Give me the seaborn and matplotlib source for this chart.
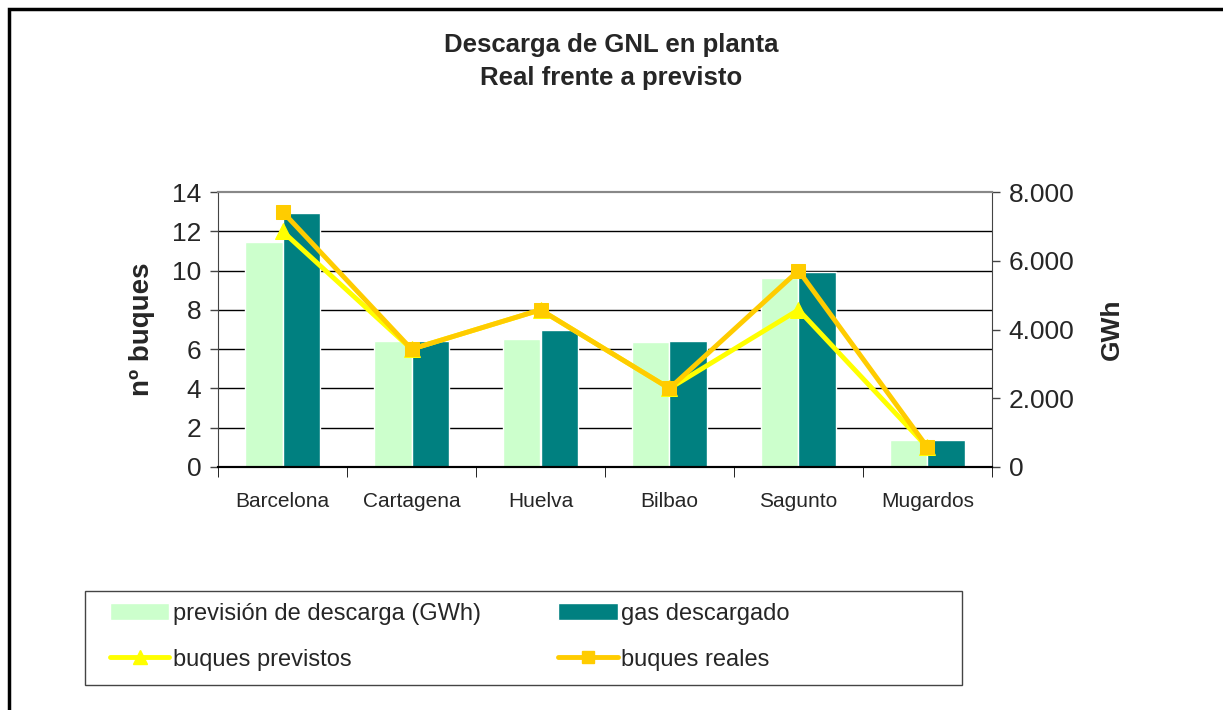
import numpy as np
import pandas as pd
import seaborn as sns
import matplotlib.pyplot as plt
from matplotlib.patches import Rectangle
from matplotlib.lines import Line2D
from matplotlib.ticker import FuncFormatter

plantas = ["Barcelona", "Cartagena", "Huelva", "Bilbao", "Sagunto", "Mugardos"]
prevision_gwh = [6550, 3660, 3710, 3630, 5490, 800]
gas_descargado = [7390, 3660, 4000, 3660, 5660, 800]
buques_previstos = [12, 6, 8, 4, 8, 1]
buques_reales = [13, 6, 8, 4, 10, 1]

c_prev = "#CCFFCC"
c_gas = "#008080"
c_bprev = "#FFFF00"
c_breal = "#FFCC00"

sns.set_style("white")
plt.rcParams["font.family"] = ["Liberation Sans", "DejaVu Sans"]

df = pd.DataFrame({
    "planta": plantas * 2,
    "gwh": prevision_gwh + gas_descargado,
    "serie": ["previsión de descarga (GWh)"] * 6 + ["gas descargado"] * 6,
})

W, H = 1223, 710
fig = plt.figure(figsize=(W / 100, H / 100), dpi=100)
ax = fig.add_axes([218 / W, 1 - 467 / H, 774 / W, 275 / H])
ax2 = ax.twinx()

# bars on the GWh axis (right)
sns.barplot(data=df, x="planta", y="gwh", hue="serie", ax=ax2,
            palette=[c_prev, c_gas], width=0.58, saturation=1, legend=False)
ax2.set_ylim(0, 8000)
ax2.set_yticks([0, 2000, 4000, 6000, 8000])
ax2.yaxis.set_major_formatter(FuncFormatter(lambda v, p: f"{int(v):,}".replace(",", ".")))
# grid lines matching the buques scale (every 2 ships)
ax2.set_yticks(np.arange(0, 8001, 8000 / 7), minor=True)
ax2.grid(which="minor", axis="y", color="black", linewidth=1)
ax2.set_axisbelow(True)
ax2.tick_params(axis="y", which="minor", length=0)
ax2.tick_params(axis="y", which="major", direction="out", length=6, width=1,
                color="#444444", labelsize=19, pad=6, right=True)
ax2.set_ylabel("GWh", fontsize=19, fontweight="bold", labelpad=18)
ax2.set_xlabel("")

# lines on the ships axis (left), drawn above bars
ax.set_zorder(ax2.get_zorder() + 1)
ax.patch.set_visible(False)
sns.lineplot(x=plantas, y=buques_previstos, ax=ax, color=c_bprev, linewidth=3.5,
             marker="^", markersize=11, markeredgecolor=c_bprev, sort=False)
sns.lineplot(x=plantas, y=buques_reales, ax=ax, color=c_breal, linewidth=3.5,
             marker="s", markersize=10, markeredgecolor=c_breal, sort=False)
ax.set_ylim(0, 14)
ax.set_yticks(range(0, 15, 2))
ax.set_xlim(-0.5, 5.5)
ax.tick_params(axis="y", direction="out", length=6, width=1, color="#444444",
               labelsize=19, pad=6, left=True)
ax.tick_params(axis="x", which="major", length=0, labelsize=15, pad=18)
ax.set_ylabel("nº buques", fontsize=20, fontweight="bold", labelpad=12)
ax.set_xlabel("")

# category separators on x axis
ax.set_xticks(np.arange(-0.5, 6, 1), minor=True)
ax.tick_params(axis="x", which="minor", direction="out", length=7, color="black", bottom=True)

for a in (ax, ax2):
    a.spines["left"].set_color("#444444")
    a.spines["right"].set_color("#444444")
    a.spines["bottom"].set_color("black")
    a.spines["bottom"].set_linewidth(1.5)
    a.spines["top"].set_color("#888888")
    a.spines["top"].set_linewidth(1.5)
ax2.spines["left"].set_visible(False)
ax.spines["right"].set_visible(False)
ax2.tick_params(axis="x", which="both", length=0, labelbottom=False)

fig.suptitle("Descarga de GNL en planta\nReal frente a previsto", fontsize=18.5,
             fontweight="bold", y=1 - 33 / H, va="top", linespacing=1.45)

handles = [
    Rectangle((0, 0), 1, 1, facecolor=c_prev),
    Line2D([], [], color=c_bprev, linewidth=3.5, marker="^", markersize=10),
    Rectangle((0, 0), 1, 1, facecolor=c_gas),
    Line2D([], [], color=c_breal, linewidth=3.5, marker="s", markersize=9),
]
labels = ["previsión de descarga (GWh)", "buques previstos", "gas descargado", "buques reales"]
fig.legend(handles, labels, loc="upper left", ncol=2, fontsize=17,
           bbox_to_anchor=(110 / W, 1 - 603 / H), frameon=False,
           handlelength=2.5, handletextpad=0.15, borderpad=0, labelspacing=1.0,
           columnspacing=3.3, borderaxespad=0)

# legend frame
fig.patches.append(Rectangle((85 / W, 1 - 685 / H), 877 / W, 94 / H, transform=fig.transFigure,
                             fill=False, edgecolor="#444444", linewidth=1))
# outer chart frame
fig.patches.append(Rectangle((9 / W, -0.1), 1.2, 1 - 9 / H + 0.1, transform=fig.transFigure,
                             fill=False, edgecolor="black", linewidth=2.5))

fig.savefig("out.png", dpi=100)
